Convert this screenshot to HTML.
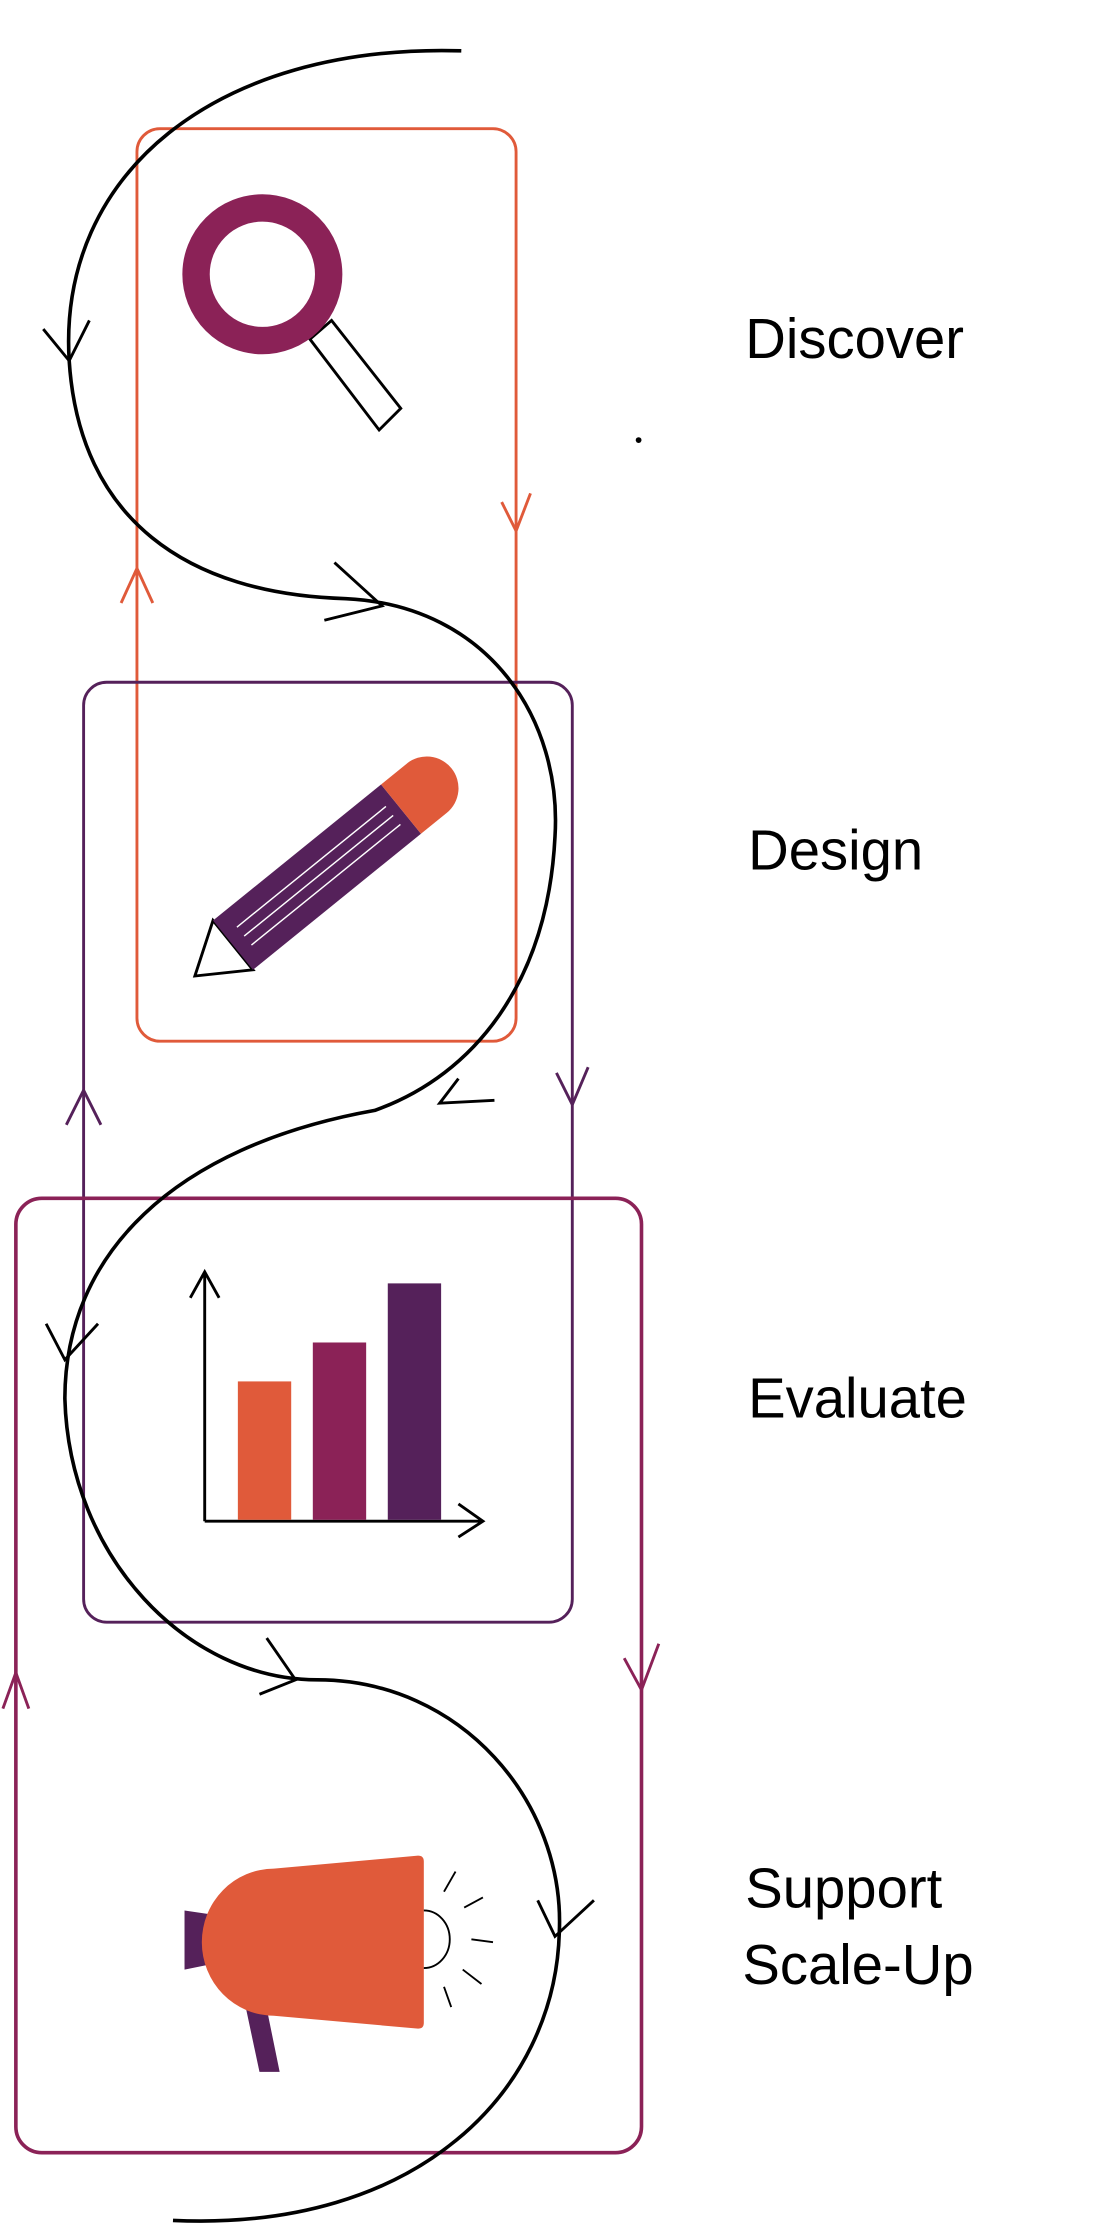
<!DOCTYPE html>
<html><head><meta charset="utf-8"><style>
html,body{margin:0;padding:0;background:#fff;}
svg{display:block;}
text{font-family:"Liberation Sans",Arial,sans-serif;fill:#000;}
</style></head><body>
<svg width="1110" height="2228" viewBox="0 0 770 1545" xmlns="http://www.w3.org/2000/svg">
<rect width="770" height="1545" fill="#fff"/>
<!-- boxes -->
<rect x="95" y="89" width="263" height="633" rx="16" fill="none" stroke="#E05A3A" stroke-width="2"/>
<rect x="58" y="473" width="339" height="652" rx="16" fill="none" stroke="#55215A" stroke-width="2"/>
<rect x="11" y="831" width="434" height="662" rx="18" fill="none" stroke="#8B2257" stroke-width="2.5"/>
<!-- box arrows -->
<g fill="none" stroke-width="2">
<path d="M348,348 L358,368 L368,342" stroke="#E05A3A"/>
<path d="M84,418 L95,394 L106,418" stroke="#E05A3A"/>
<path d="M46,780 L58,756 L70,780" stroke="#55215A"/>
<path d="M386,744 L397,766 L408,740" stroke="#55215A"/>
<path d="M2,1185 L11,1160 L20,1185" stroke="#8B2257"/>
<path d="M433,1150 L445,1172 L457,1140" stroke="#8B2257"/>
</g>
<!-- black flow curve -->
<path d="M320,35 C150,30 40,120 48,250 C55,360 130,412 240,415 C340,420 390,500 385,580 C380,680 330,745 260,770 C120,795 45,870 45,970 C48,1080 130,1165 220,1165 C320,1165 392,1250 388,1340 C385,1450 290,1548 120,1540" fill="none" stroke="#000" stroke-width="2.5"/>
<g fill="none" stroke="#000" stroke-width="2">
<path d="M30,228 L48,250 L62,222"/>
<path d="M232,390 L265,420 L225,430"/>
<path d="M318,748 L305,765 L343,763"/>
<path d="M32,918 L45,943 L68,918"/>
<path d="M185,1136 L205,1165 L180,1175"/>
<path d="M373,1318 L385,1343 L412,1318"/>
</g>
<!-- magnifier -->
<polygon points="215,235 230,222 278,283 263,298" fill="#fff" stroke="#000" stroke-width="2"/>
<circle cx="182" cy="190" r="46" fill="none" stroke="#8B2257" stroke-width="19"/>
<!-- pencil -->
<g transform="translate(230,600) rotate(-39)">
<polygon points="-122,0 -88,-22 -88,22" fill="#fff" stroke="#000" stroke-width="2"/>
<rect x="-88" y="-22" width="150" height="44" fill="#55215A"/>
<path d="M62,-22 H85 A22,22 0 0 1 85,22 H62 Z" fill="#E05A3A"/>
<g stroke="#fff" stroke-width="1"><line x1="-78" y1="-8" x2="55" y2="-8"/><line x1="-78" y1="0" x2="55" y2="0"/><line x1="-78" y1="8" x2="55" y2="8"/></g>
</g>
<!-- chart -->
<g fill="none" stroke="#000" stroke-width="2">
<path d="M142,1055 L142,882 M132,900 L142,882 L152,900"/>
<path d="M142,1055 L335,1055 M318,1043 L335,1055 L318,1066"/>
</g>
<rect x="165" y="958" width="37" height="96" fill="#E05A3A"/>
<rect x="217" y="931" width="37" height="123" fill="#8B2257"/>
<rect x="269" y="890" width="37" height="164" fill="#55215A"/>
<!-- megaphone -->
<polygon points="128,1325 148,1328 148,1362 128,1366" fill="#55215A"/>
<polygon points="170,1390 184,1388 194,1437 180,1437" fill="#55215A"/>
<path d="M190,1296 L290,1287 Q294,1287 294,1291 L294,1403 Q294,1407 290,1407 L190,1398 A50,51 0 0 1 190,1296 Z" fill="#E05A3A"/>
<g fill="none" stroke="#000" stroke-width="1.3">
<path d="M294,1325 A18,20 0 0 1 294,1365"/>
<line x1="308" y1="1312" x2="316" y2="1298"/>
<line x1="322" y1="1323" x2="335" y2="1316"/>
<line x1="327" y1="1345" x2="342" y2="1347"/>
<line x1="321" y1="1366" x2="334" y2="1376"/>
<line x1="308" y1="1378" x2="313" y2="1392"/>
</g>
<!-- labels -->
<text x="517" y="248" font-size="39">Discover</text>
<text x="519" y="603" font-size="39">Design</text>
<text x="519" y="983" font-size="39">Evaluate</text>
<text x="517" y="1323" font-size="39">Support</text>
<text x="515" y="1376" font-size="39">Scale-Up</text>
<circle cx="443" cy="305" r="2" fill="#000"/>
</svg>
</body></html>
